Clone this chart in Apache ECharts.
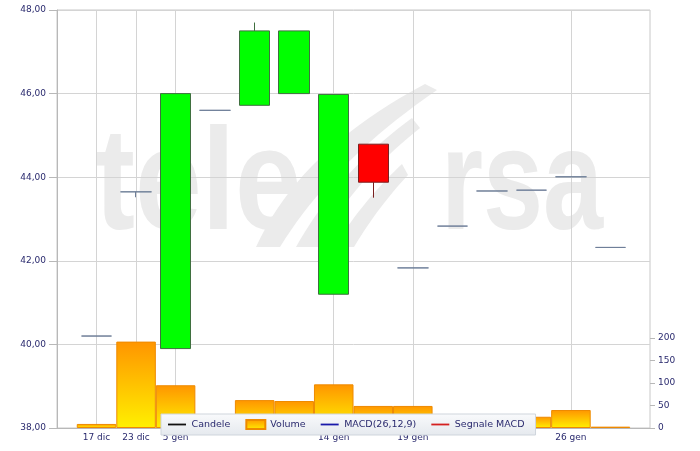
<!DOCTYPE html>
<html>
<head>
<meta charset="utf-8">
<script src="https://cdn.jsdelivr.net/npm/echarts@6/dist/echarts.min.js"></script>
<style>
  html, body { margin: 0; padding: 0; background: #fff; }
  #chart { width: 700px; height: 451px; }
</style>
</head>
<body>
<div id="chart"></div>
<script>
// categorie (la prima e l'ultima sono vuote, solo margine)
const dates = ['', '17 dic', '23 dic', '5 gen', '', '', '', '14 gen', '', '19 gen', '', '', '', '26 gen', '', '']

// candele: apertura, chiusura, minimo, massimo
const opens  = [null, 40.20, 43.65, 39.90, 45.60, 45.72, 46.00, 41.20, 44.79, 41.83, 42.83, 43.67, 43.69, 44.01, 42.32, null]
const closes = [null, 40.20, 43.65, 46.00, 45.60, 47.50, 47.50, 45.98, 43.88, 41.83, 42.83, 43.67, 43.69, 44.01, 42.32, null]
const lows   = [null, 40.20, 43.52, 39.90, 45.60, 45.72, 46.00, 41.20, 43.51, 41.83, 42.83, 43.67, 43.69, 44.01, 42.32, null]
const highs  = [null, 40.20, 43.65, 46.00, 45.60, 47.70, 47.50, 45.98, 44.79, 41.83, 42.83, 43.67, 43.69, 44.01, 42.32, null]

// volumi (migliaia)
const volumes = [null, 9, 192, 95, 10, 62, 60, 97, 49, 49, 20, 15, 25, 40, 3, null]

const priceTicks = { min: 38, max: 48, interval: 2 }
const volTicks = { min: 0, max: 200, interval: 50 }

const candleData = opens.map((o, i) => o == null ? '-' : [o, closes[i], lows[i], highs[i]])

const FONT = 'DejaVu Sans'
const LABEL = '#2a2a6e'
const WM = '#ebebeb'
// icona legenda: trattino sottile (i punti vuoti fissano il riquadro 20x10)
const LINE_ICON = 'path://M0,0L0,0M0,4H20V6H0ZM20,10L20,10'

// fascia curva del logo (due curve quadratiche chiuse)
function band(a0, c0, b0, a1, c1, b1) {
  const q = (p, c, r, t) => [
    (1 - t) * (1 - t) * p[0] + 2 * (1 - t) * t * c[0] + t * t * r[0],
    (1 - t) * (1 - t) * p[1] + 2 * (1 - t) * t * c[1] + t * t * r[1],
  ]
  const pts = []
  for (let i = 0; i <= 20; i++) pts.push(q(a0, c0, b0, i / 20))
  for (let i = 20; i >= 0; i--) pts.push(q(a1, c1, b1, i / 20))
  return { type: 'polygon', shape: { points: pts }, style: { fill: WM }, silent: true }
}

const chart = echarts.init(document.getElementById('chart'), null, { renderer: 'canvas' })

chart.setOption({
  animation: false,
  backgroundColor: '#fff',
  // logo in filigrana
  graphic: [{
    type: 'group', x: 95, y: 261, scaleY: 1.2, z: -10, silent: true,
    children: [
      { type: 'text', x: 0, y: 0, style: { text: 'tele', font: 'bold 120px "Liberation Sans"', fill: WM, verticalAlign: 'bottom' } },
      { type: 'text', x: 346, y: 0, scaleX: 0.9, style: { text: 'rsa', font: 'bold 120px "Liberation Sans"', fill: WM, verticalAlign: 'bottom' } },
    ]
  }, {
    type: 'group', z: -10, silent: true,
    children: [
      band([256, 247], [300, 150], [425, 84], [280, 247], [332, 162], [437, 90]),
      band([296, 247], [338, 172], [412, 118], [318, 247], [352, 182], [420, 128]),
      band([334, 247], [362, 202], [402, 164], [354, 247], [378, 207], [408, 175]),
    ]
  }],
  legend: {
    left: 161, top: 414,
    padding: [5, 11, 5, 7],
    itemGap: 15, itemWidth: 19, itemHeight: 9,
    backgroundColor: { type: 'linear', x: 0, y: 0, x2: 0, y2: 1, colorStops: [{ offset: 0, color: '#f9fafc' }, { offset: 1, color: '#e5e9ee' }] },
    borderColor: '#cfd5dc', borderWidth: 1,
    textStyle: { fontFamily: FONT, fontSize: 9.5, color: LABEL },
    selectedMode: false,
    data: [
      { name: 'Candele', icon: LINE_ICON },
      { name: 'Volume', icon: 'rect' },
      { name: 'MACD(26,12,9)', icon: LINE_ICON },
      { name: 'Segnale MACD', icon: LINE_ICON },
    ]
  },
  grid: [
    { left: 57, right: 50, top: 10, bottom: 23, show: true, borderColor: '#c8c8c8', borderWidth: 1 },
    { left: 57, right: 50, top: 338, bottom: 23 },
  ],
  xAxis: [{
    type: 'category', gridIndex: 0, data: dates, boundaryGap: false,
    axisLine: { lineStyle: { color: '#b8b8b8' } },
    axisTick: { show: false },
    axisLabel: { interval: 0, margin: 5, fontFamily: FONT, fontSize: 9, color: LABEL },
    splitLine: { show: true, interval: (i, v) => v !== '', lineStyle: { color: '#d4d4d4' } },
  }, {
    type: 'category', gridIndex: 1, data: dates, boundaryGap: false, show: false,
  }],
  yAxis: [{
    type: 'value', gridIndex: 0, ...priceTicks, position: 'left',
    axisLine: { show: true, lineStyle: { color: '#b8b8b8' } },
    axisTick: { show: true, length: 8, lineStyle: { color: '#b8b8b8' } },
    axisLabel: { margin: 11, fontFamily: FONT, fontSize: 9, color: LABEL, formatter: v => v.toFixed(2).replace('.', ',') },
    splitLine: { lineStyle: { color: '#d4d4d4' } },
  }, {
    type: 'value', gridIndex: 1, ...volTicks, position: 'right',
    axisLine: { show: false },
    axisTick: { show: true, length: 5, lineStyle: { color: '#b8b8b8' } },
    axisLabel: { margin: 8, fontFamily: FONT, fontSize: 9, color: LABEL },
    splitLine: { show: false },
  }],
  series: [
    {
      name: 'Volume', type: 'bar', xAxisIndex: 1, yAxisIndex: 1,
      barWidth: '100%', data: volumes, z: 1,
      itemStyle: {
        color: { type: 'linear', x: 0, y: 0, x2: 0, y2: 1, colorStops: [{ offset: 0, color: '#ff9500' }, { offset: 1, color: '#fff000' }] },
        borderColor: '#ee8a00', borderWidth: 1,
      },
    },
    {
      name: 'Prezzo', type: 'candlestick', xAxisIndex: 0, yAxisIndex: 0,
      barWidth: 31, data: candleData, z: 3,
      itemStyle: {
        color: '#00ff00', color0: '#ff0000',
        borderColor: '#3f6f3f', borderColor0: '#7a2020', borderColorDoji: '#6f7f99',
        borderWidth: 1,
      },
    },
    { name: 'Candele', type: 'line', data: [], symbol: 'none', itemStyle: { color: '#111' }, lineStyle: { color: '#111', width: 2 } },
    { name: 'MACD(26,12,9)', type: 'line', data: [], symbol: 'none', itemStyle: { color: '#1a1aaa' }, lineStyle: { color: '#1a1aaa', width: 2 } },
    { name: 'Segnale MACD', type: 'line', data: [], symbol: 'none', itemStyle: { color: '#d42020' }, lineStyle: { color: '#d42020', width: 2 } },
  ]
})
</script>
</body>
</html>
